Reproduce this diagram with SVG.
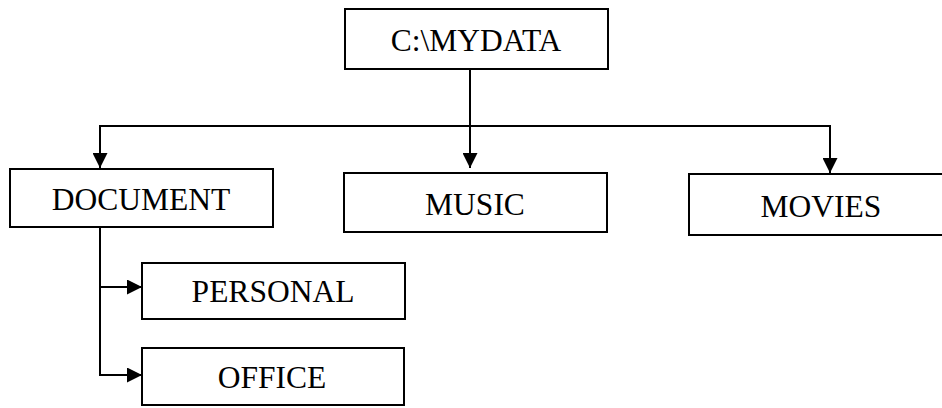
<svg xmlns="http://www.w3.org/2000/svg" width="942" height="408" viewBox="0 0 942 408">
<style>
.box{fill:#fff;stroke:#000;stroke-width:2}
.t{font-family:"Liberation Serif","Times New Roman",serif;font-size:31.5px;fill:#000;text-anchor:middle}
.c{fill:none;stroke:#000;stroke-width:2}
</style>
<defs>
<marker id="ah" viewBox="0 0 10 10" refX="10" refY="5" markerWidth="15" markerHeight="15" markerUnits="userSpaceOnUse" orient="auto">
<path d="M0,0 L10,5 L0,10 z" fill="#000"/>
</marker>
</defs>
<rect width="942" height="408" fill="#fff"/>
<g id="connectors">
<path class="c" d="M470,69 V168" marker-end="url(#ah)"/>
<path class="c" d="M100,168 V126 H830 V173" marker-end="url(#ah)"/>
<path class="c" d="M100,126 V168" marker-end="url(#ah)"/>
<path class="c" d="M100,227 V375 H142" marker-end="url(#ah)"/>
<path class="c" d="M100,287 H142" marker-end="url(#ah)"/>
</g>
<g id="mydata"><rect class="box" x="345" y="9" width="263" height="60"/><text class="t" x="476" y="51">C:\MYDATA</text></g>
<g id="document"><rect class="box" x="10" y="169" width="263" height="58"/><text class="t" x="141" y="210">DOCUMENT</text></g>
<g id="music"><rect class="box" x="344" y="173" width="263" height="59"/><text class="t" x="475" y="215">MUSIC</text></g>
<g id="movies"><rect class="box" x="689" y="174" width="260" height="61"/><text class="t" x="821" y="217">MOVIES</text></g>
<g id="personal"><rect class="box" x="142" y="263" width="263" height="56"/><text class="t" x="273" y="302">PERSONAL</text></g>
<g id="office"><rect class="box" x="142" y="348" width="262" height="57"/><text class="t" x="272" y="388">OFFICE</text></g>
</svg>
